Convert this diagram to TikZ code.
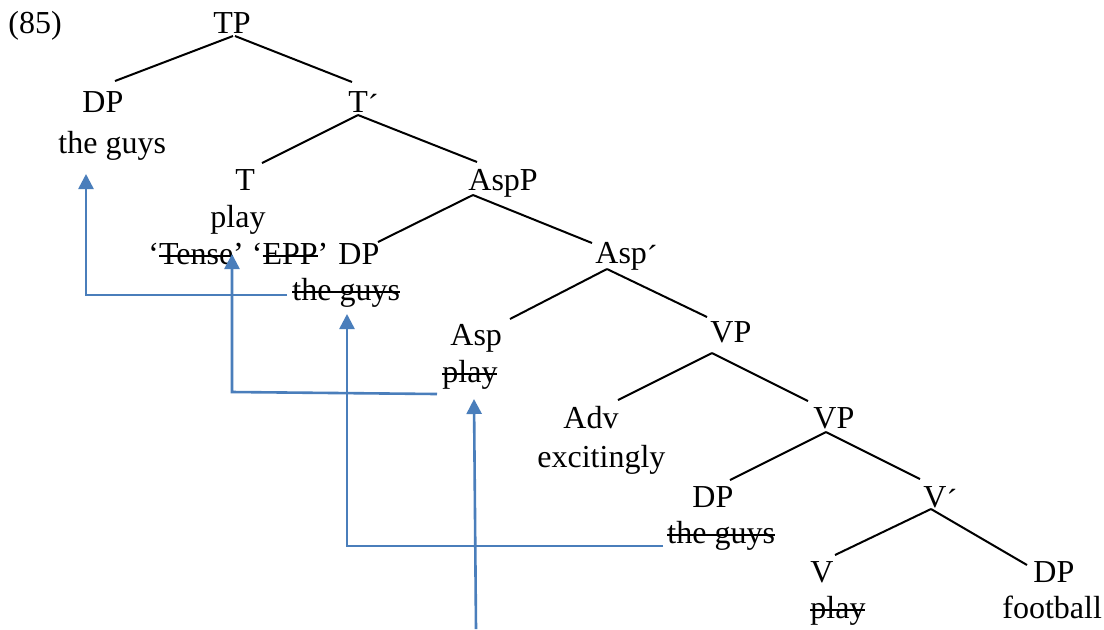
\documentclass[tikz,border=0pt]{standalone}
\usepackage{fontspec}
\setmainfont{Liberation Serif}
\usetikzlibrary{arrows.meta}
\definecolor{arrowblue}{HTML}{4A7EBB}
\newsavebox{\mystrkbox}
\newcommand{\mystrk}[1]{\sbox{\mystrkbox}{#1}\rlap{\raisebox{0.5ex}{\rule{\wd\mystrkbox}{0.9pt}}}\usebox{\mystrkbox}}
\newcommand{\mybar}{\raisebox{-0.14em}{´}}
\begin{document}
\begin{tikzpicture}[x=0.5pt,y=-0.5pt,
  lbl/.style={inner sep=0pt, anchor=base west, font=\fontsize{16}{19}\selectfont},
  branch/.style={line width=1pt, black},
  move/.style={line width=1.3pt, arrowblue, -{Triangle[width=7.5pt,length=7.5pt]}}]
\useasboundingbox (0,0) rectangle (1104,629);
% labels
\node[lbl] (n85) at (8,33) {(85)};
\node[lbl] (TP) at (213,33) {TP};
\node[lbl] (DP1) at (82,112) {DP};
\node[lbl] (tg1) at (58,153) {the guys};
\node[lbl] (Tbar) at (348,112) {T\mybar};
\node[lbl] (T) at (235,190) {T};
\node[lbl] (play1) at (210,227) {play};
\node[lbl] (feat) at (148,264) {‘\mystrk{Tense}’ ‘\mystrk{EPP}’};
\node[lbl] (AspP) at (468,190) {AspP};
\node[lbl] (DP2) at (338,264) {DP};
\node[lbl] (tg2) at (292,300) {\mystrk{the guys}};
\node[lbl] (Aspbar) at (595,263) {Asp\mybar};
\node[lbl] (Asp) at (450,345) {Asp};
\node[lbl] (play2) at (442,382) {\mystrk{play}};
\node[lbl] (VP1) at (710,342) {VP};
\node[lbl] (Adv) at (563,428) {Adv};
\node[lbl] (exc) at (537,467) {excitingly};
\node[lbl] (VP2) at (813,428) {VP};
\node[lbl] (DP3) at (692,507) {DP};
\node[lbl] (tg3) at (667,543) {\mystrk{the guys}};
\node[lbl] (Vbar) at (923,507) {V\mybar};
\node[lbl] (V) at (810,582) {V};
\node[lbl] (DP4) at (1033,582) {DP};
\node[lbl] (play3) at (810,618) {\mystrk{play}};
\node[lbl] (foot) at (1002,618) {football};
% branch end points
\coordinate (TPl) at (233,36);   \coordinate (TPr) at (235,36);
\coordinate (DP1t) at (115,81);  \coordinate (Tbart) at (352,82);
\coordinate (Tbarb) at (358,115);
\coordinate (Tt) at (262,163);   \coordinate (AspPt) at (477,162);
\coordinate (AspPb) at (473,195);
\coordinate (DP2t) at (378,242); \coordinate (Aspbart) at (592,243);
\coordinate (Aspbarb) at (607,269);
\coordinate (Aspt) at (510,319); \coordinate (VP1t) at (707,317);
\coordinate (VP1b) at (712,353);
\coordinate (Advt) at (618,400); \coordinate (VP2t) at (808,401);
\coordinate (VP2b) at (826,432);
\coordinate (DP3t) at (730,480); \coordinate (Vbart) at (920,479);
\coordinate (Vbarb) at (931,509);
\coordinate (Vt) at (835,555);   \coordinate (DP4t) at (1027,565);
\draw[branch] (TPl) -- (DP1t);
\draw[branch] (TPr) -- (Tbart);
\draw[branch] (Tbarb) -- (Tt);
\draw[branch] (Tbarb) -- (AspPt);
\draw[branch] (AspPb) -- (DP2t);
\draw[branch] (AspPb) -- (Aspbart);
\draw[branch] (Aspbarb) -- (Aspt);
\draw[branch] (Aspbarb) -- (VP1t);
\draw[branch] (VP1b) -- (Advt);
\draw[branch] (VP1b) -- (VP2t);
\draw[branch] (VP2b) -- (DP3t);
\draw[branch] (VP2b) -- (Vbart);
\draw[branch] (Vbarb) -- (Vt);
\draw[branch] (Vbarb) -- (DP4t);
% movement arrows
\coordinate (m1s) at (287,295); \coordinate (m1c) at (86,295); \coordinate (m1e) at (86,174);
\coordinate (m2s) at (437,394); \coordinate (m2c) at (232,392); \coordinate (m2e) at (232,254);
\coordinate (m3s) at (663,546); \coordinate (m3c) at (347,546); \coordinate (m3e) at (347,314);
\coordinate (m4s) at (476,629); \coordinate (m4e) at (474,399);
\draw[move] (m1s) -- (m1c) -- (m1e);
\draw[move] (m2s) -- (m2c) -- (m2e);
\draw[move] (m3s) -- (m3c) -- (m3e);
\draw[move] (m4s) -- (m4e);
\end{tikzpicture}
\end{document}
